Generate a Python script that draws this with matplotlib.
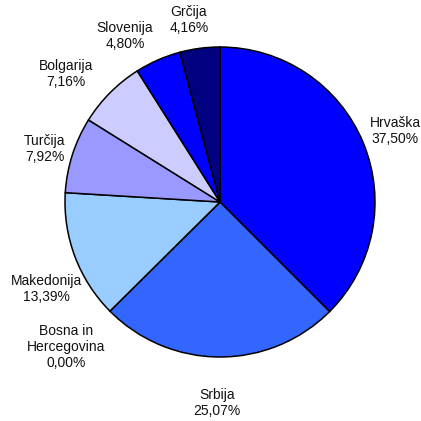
import matplotlib
matplotlib.use("Agg")
import matplotlib.pyplot as plt

# Data
countries = ["Hrvaška", "Srbija", "Bosna in\nHercegovina", "Makedonija",
             "Turčija", "Bolgarija", "Slovenija", "Grčija"]
shares = [37.50, 25.07, 0.00, 13.39, 7.92, 7.16, 4.80, 4.16]
colors = ["#0000FF", "#3366FF", "#6699FF", "#99CCFF",
          "#9999FF", "#CCCCFF", "#0000FF", "#000080"]

# Layout (figure pixels, origin top-left)
W = H = 421
center_px = (220, 202)
radius_px = 155
label_pos_px = [(395, 131), (217, 403), (66, 347), (46, 289),
                (45, 149), (66, 74), (125, 36), (189, 20)]

plt.rcParams['font.family'] = ['Liberation Sans', 'DejaVu Sans']

fig = plt.figure(figsize=(W / 100, H / 100), dpi=100)
ax = fig.add_axes([0, 0, 1, 1])
ax.pie(shares, colors=colors, startangle=90, counterclock=False,
       center=(center_px[0], H - center_px[1]), radius=radius_px,
       wedgeprops=dict(edgecolor="black", linewidth=1.1), normalize=True)
ax.set_xlim(0, W)
ax.set_ylim(0, H)
ax.set_aspect("equal")
ax.axis("off")

for name, val, (lx, ly) in zip(countries, shares, label_pos_px):
    txt = f"{name}\n{val:.2f}%".replace(".", ",")
    ax.text(lx, H - ly, txt, ha="center", va="center", fontsize=10,
            color="#111111", linespacing=1.2, multialignment="center")

fig.savefig("out.png", dpi=100)
